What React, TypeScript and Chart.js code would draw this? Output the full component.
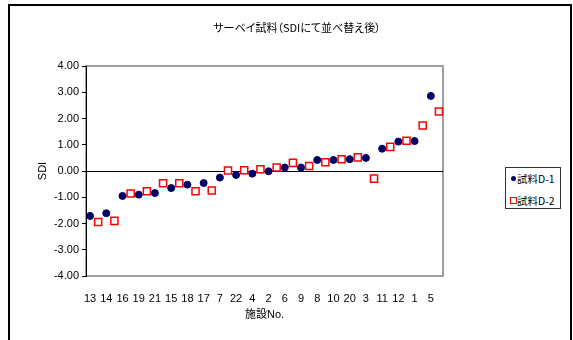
import React, { useEffect, useRef } from "react";
import { Chart, registerables } from "chart.js";

Chart.register(...registerables);

const TITLE = "サーベイ試料（SDIにて並べ替え後）";
const X_TITLE = "施設No.";
const Y_TITLE = "SDI";
const SERIES1_NAME = "試料D-1";
const SERIES2_NAME = "試料D-2";

const facilities = ["13", "14", "16", "19", "21", "15", "18", "17", "7", "22", "4", "2", "6", "9", "8", "10", "20", "3", "11", "12", "1", "5"];
const sdiD1 = [-1.71, -1.61, -0.95, -0.9, -0.84, -0.65, -0.52, -0.46, -0.25, -0.15, -0.1, -0.01, 0.13, 0.13, 0.42, 0.42, 0.45, 0.5, 0.85, 1.12, 1.14, 2.86];
const sdiD2 = [-1.94, -1.9, -0.86, -0.77, -0.47, -0.47, -0.77, -0.74, 0.02, 0.03, 0.07, 0.13, 0.31, 0.19, 0.33, 0.45, 0.52, -0.29, 0.92, 1.15, 1.73, 2.27];
const yTicks = [-4, -3, -2, -1, 0, 1, 2, 3, 4];

const D1_COLOR = "#000066";
const D2_COLOR = "#ff0000";
const FONT = "'Liberation Sans', Arial, 'Noto Sans CJK JP', sans-serif";

// each facility occupies two slots: D-1 in the first, D-2 in the second
const slotLabels: string[] = [];
const slotD1: (number | null)[] = [];
const slotD2: (number | null)[] = [];
facilities.forEach((f, i) => {
  slotLabels.push(f, "");
  slotD1.push(sdiD1[i], null);
  slotD2.push(null, sdiD2[i]);
});

const plotFrame = {
  id: "plotFrame",
  beforeDraw(chart: any) {
    const { ctx, chartArea } = chart;
    ctx.save();
    ctx.strokeStyle = "#a0a0a0";
    ctx.lineWidth = 2;
    ctx.strokeRect(chartArea.left, chartArea.top, chartArea.right - chartArea.left, chartArea.bottom - chartArea.top);
    ctx.restore();
  },
};

function ScatterChart() {
  const ref = useRef<HTMLCanvasElement>(null);
  useEffect(() => {
    if (!ref.current) return;
    const chart = new Chart(ref.current, {
      type: "line",
      data: {
        labels: slotLabels,
        datasets: [
          {
            label: SERIES1_NAME,
            data: slotD1,
            showLine: false,
            pointStyle: "circle",
            pointRadius: 3.5,
            pointBackgroundColor: D1_COLOR,
            pointBorderColor: D1_COLOR,
            pointBorderWidth: 1,
          },
          {
            label: SERIES2_NAME,
            data: slotD2,
            showLine: false,
            pointStyle: "rect",
            pointRadius: 5,
            pointBackgroundColor: "#ffffff",
            pointBorderColor: D2_COLOR,
            pointBorderWidth: 1.5,
          },
        ],
      },
      options: {
        responsive: false,
        animation: false,
        events: [],
        layout: { padding: { left: 0, top: 66, right: 130, bottom: 0 } },
        plugins: { legend: { display: false }, title: { display: false }, tooltip: { enabled: false } },
        scales: {
          x: {
            type: "category",
            offset: true,
            grid: { display: false },
            border: { display: false },
            ticks: {
              autoSkip: false,
              maxRotation: 0,
              minRotation: 0,
              padding: 8,
              color: "#000",
              font: { family: FONT, size: 11 },
            },
            title: {
              display: true,
              text: X_TITLE,
              color: "#000",
              font: { family: FONT, size: 11 },
              padding: { top: 0, bottom: 18 },
            },
            afterFit: (s: any) => {
              s.height = 64;
            },
          },
          y: {
            min: -4,
            max: 4,
            afterBuildTicks: (s: any) => {
              s.ticks = yTicks.map((v) => ({ value: v }));
            },
            grid: {
              color: (c: any) => (c.tick && c.tick.value === 0 ? "#000000" : "rgba(0,0,0,0)"),
              tickColor: "#000000",
              tickLength: 4,
              lineWidth: 1,
            },
            border: { display: true, color: "#000000", width: 1 },
            ticks: {
              padding: 3,
              color: "#000",
              font: { family: FONT, size: 11 },
              callback: (v: any) => Number(v).toFixed(2),
            },
            title: {
              display: true,
              text: Y_TITLE,
              color: "#000",
              font: { family: FONT, size: 11 },
              padding: { top: 36, bottom: 0 },
            },
            afterFit: (s: any) => {
              s.width = 86;
            },
          },
        },
      },
      plugins: [plotFrame],
    });
    return () => chart.destroy();
  }, []);
  return <canvas ref={ref} width={573} height={340} style={{ position: "absolute", left: 0, top: 0, width: 573, height: 340 }} />;
}

export default function App() {
  const jp = "'Noto Sans CJK JP', 'Liberation Sans', sans-serif";
  return (
    <div style={{ position: "fixed", left: 0, top: 0, width: 573, height: 340, overflow: "hidden", background: "#fff" }}>
      <div style={{ position: "absolute", left: 8, top: 4, width: 564, height: 400, border: "2px solid #000", boxSizing: "border-box" }} />
      <ScatterChart />
      <div
        style={{
          position: "absolute",
          left: 0,
          width: 594,
          top: 19,
          textAlign: "center",
          fontFamily: jp,
          fontSize: 11,
          lineHeight: "16px",
          fontFeatureSettings: "'palt'",
          color: "#000",
        }}
      >
        {TITLE}
      </div>
      <div
        style={{
          position: "absolute",
          left: 505,
          top: 167,
          width: 56,
          height: 42,
          border: "1px solid #333",
          boxSizing: "border-box",
          background: "#fff",
          fontFamily: jp,
          fontSize: 10.5,
          color: "#000",
        }}
      >
        <div style={{ position: "absolute", left: 5, top: 8, width: 5, height: 5, borderRadius: "50%", background: D1_COLOR }} />
        <div style={{ position: "absolute", left: 11, top: 3, lineHeight: "16px", whiteSpace: "nowrap" }}>{SERIES1_NAME}</div>
        <div style={{ position: "absolute", left: 4, top: 29, width: 7, height: 7, border: `1.5px solid ${D2_COLOR}`, boxSizing: "border-box", background: "#fff" }} />
        <div style={{ position: "absolute", left: 11, top: 25, lineHeight: "16px", whiteSpace: "nowrap" }}>{SERIES2_NAME}</div>
      </div>
    </div>
  );
}
